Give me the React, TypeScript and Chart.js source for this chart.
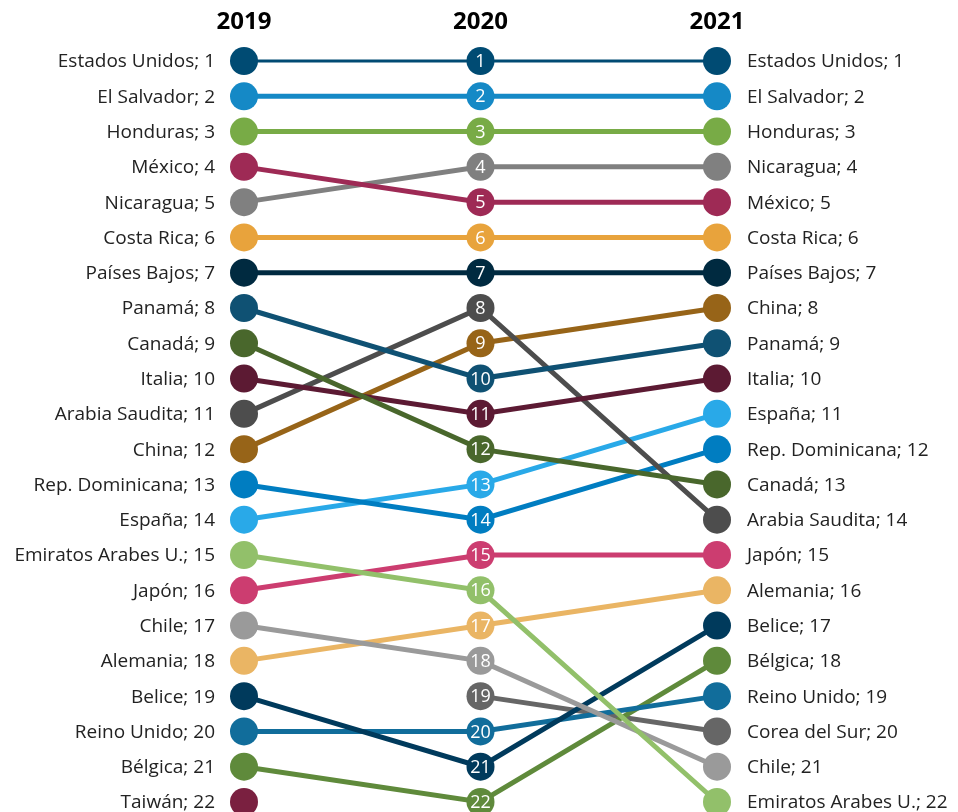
import React, { useEffect, useRef } from "react";
import { Chart, registerables } from "chart.js";

Chart.register(...registerables);

const years = ["2019", "2020", "2021"];

const countries = [
  "Estados Unidos", "El Salvador", "Honduras", "México", "Nicaragua", "Costa Rica",
  "Países Bajos", "Panamá", "Canadá", "Italia", "Arabia Saudita", "China",
  "Rep. Dominicana", "España", "Emiratos Arabes U.", "Japón", "Chile", "Alemania",
  "Belice", "Reino Unido", "Bélgica", "Taiwán", "Corea del Sur",
];

const rank2019 = [1, 2, 3, 4, 5, 6, 7, 8, 9, 10, 11, 12, 13, 14, 15, 16, 17, 18, 19, 20, 21, 22, null];
const rank2020 = [1, 2, 3, 5, 4, 6, 7, 10, 12, 11, 8, 9, 14, 13, 16, 15, 18, 17, 21, 20, 22, null, 19];
const rank2021 = [1, 2, 3, 5, 4, 6, 7, 9, 13, 10, 14, 8, 12, 11, 22, 15, 21, 16, 17, 19, 18, null, 20];

const colors = [
  "#004B73", "#1589C6", "#78AB46", "#9E2A55", "#808080", "#E8A33C",
  "#002A40", "#0F5173", "#49672C", "#5C1A33", "#4D4D4D", "#976418",
  "#007DC1", "#29A9E8", "#92C06A", "#CC3D70", "#9A9A9A", "#EAB564",
  "#003A5C", "#116D9B", "#5F8A3B", "#7A2040", "#666666",
];

const LABEL_FONT = "Open Sans";

const labelsPlugin = {
  id: "bumpLabels",
  afterDatasetsDraw(chart: any) {
    const ctx = chart.ctx;
    const x = chart.scales.x;
    const y = chart.scales.y;
    ctx.save();
    ctx.fillStyle = "#000";
    ctx.font = `bold 24px ${LABEL_FONT}`;
    ctx.textAlign = "center";
    ctx.textBaseline = "middle";
    years.forEach((yr, i) => ctx.fillText(yr, x.getPixelForValue(i), 22));

    ctx.font = `19px ${LABEL_FONT}`;
    ctx.fillStyle = "#222";
    countries.forEach((c, i) => {
      const a = rank2019[i];
      if (a != null) {
        ctx.textAlign = "right";
        ctx.fillText(`${c}; ${a}`, x.getPixelForValue(0) - 29, y.getPixelForValue(a) + 1);
      }
      const b = rank2021[i];
      if (b != null) {
        ctx.textAlign = "left";
        ctx.fillText(`${c}; ${b}`, x.getPixelForValue(2) + 30, y.getPixelForValue(b) + 1);
      }
    });
    ctx.font = `18px ${LABEL_FONT}`;
    ctx.fillStyle = "#fff";
    ctx.textAlign = "center";
    countries.forEach((c, i) => {
      const m = rank2020[i];
      if (m != null) {
        ctx.fillText(String(m), x.getPixelForValue(1), y.getPixelForValue(m) + 1);
      }
    });
    ctx.restore();
  },
};

export default function App() {
  const ref = useRef<HTMLCanvasElement>(null);
  useEffect(() => {
    document.body.style.margin = "0";
    const datasets = countries.map((c, i) => ({
      label: c,
      data: [rank2019[i], rank2020[i], rank2021[i]],
      borderColor: colors[i],
      backgroundColor: colors[i],
      pointBackgroundColor: colors[i],
      pointBorderWidth: 0,
      pointRadius: 14,
      borderWidth: i === 0 ? 3 : 5,
      clip: false as any,
      tension: 0,
    }));
    const chart = new Chart(ref.current!, {
      type: "line",
      data: { labels: years, datasets },
      options: {
        responsive: false,
        animation: false,
        events: [],
        layout: { autoPadding: false, padding: { left: 244, right: 241, top: 61, bottom: 10 } },
        plugins: { legend: { display: false }, tooltip: { enabled: false } },
        scales: {
          x: { display: false },
          y: { display: false, reverse: true, min: 1, max: 22 },
        },
      },
      plugins: [labelsPlugin],
    });
    return () => chart.destroy();
  }, []);
  return <canvas ref={ref} width={958} height={812} style={{ display: "block" }} />;
}
